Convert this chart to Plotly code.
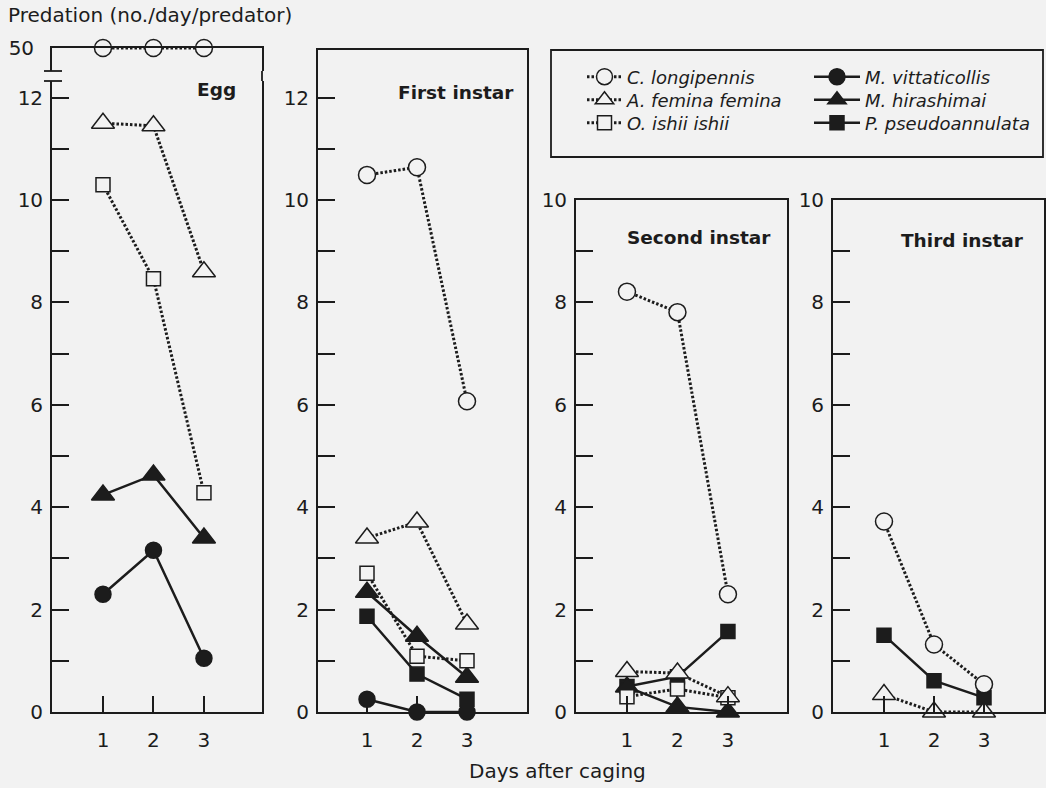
import plotly.graph_objects as go

W, H = 1046, 788
BG = "#f2f2f2"
INK = "#1c1c1c"
FONT = "DejaVu Sans"

days = [1, 2, 3]

# ---- data (predation, no./day/predator) ----
egg_c_longipennis = [50, 50, 50]
egg_a_femina = [11.5, 11.45, 8.6]
egg_o_ishii = [10.3, 8.46, 4.28]
egg_m_hirashimai = [4.24, 4.63, 3.4]
egg_m_vittaticollis = [2.3, 3.16, 1.05]

first_c_longipennis = [10.49, 10.64, 6.07]
first_a_femina = [3.4, 3.71, 1.72]
first_o_ishii = [2.71, 1.09, 1.0]
first_m_hirashimai = [2.34, 1.48, 0.68]
first_p_pseudoannulata = [1.87, 0.74, 0.25]
first_m_vittaticollis = [0.25, 0.0, 0.0]

second_c_longipennis = [8.21, 7.81, 2.3]
second_a_femina = [0.79, 0.76, 0.3]
second_o_ishii = [0.3, 0.45, 0.28]
second_m_hirashimai = [0.49, 0.1, 0.0]
second_p_pseudoannulata = [0.5, 0.69, 1.57]

third_c_longipennis = [3.72, 1.32, 0.54]
third_a_femina = [0.34, 0.0, 0.0]
third_p_pseudoannulata = [1.5, 0.61, 0.28]

panel_titles = ["Egg", "First instar", "Second instar", "Third instar"]
y_title = "Predation (no./day/predator)"
x_title = "Days after caging"

# ---- series styles (legend slot: column, row) ----
STYLE = {
    "C. longipennis": dict(symbol="circle", size=17, fill=BG, dash="2.5px,2px", col=0, row=0),
    "A. femina femina": dict(symbol="triangle-up", size=20, fill=BG, dash="2.5px,2px", col=0, row=1),
    "O. ishii ishii": dict(symbol="square", size=14, fill=BG, dash="2.5px,2px", col=0, row=2),
    "M. vittaticollis": dict(symbol="circle", size=16, fill=INK, dash="solid", col=1, row=0),
    "M. hirashimai": dict(symbol="triangle-up", size=20, fill=INK, dash="solid", col=1, row=1),
    "P. pseudoannulata": dict(symbol="square", size=14, fill=INK, dash="solid", col=1, row=2),
}
LEGEND_IDS = {}
for i, name in enumerate(STYLE):
    LEGEND_IDS[name] = "legend" if i == 0 else "legend%d" % (i + 1)

panels = [
    ("x5", "y5", {"C. longipennis": egg_c_longipennis}),
    ("x", "y", {"M. vittaticollis": egg_m_vittaticollis,
                "M. hirashimai": egg_m_hirashimai,
                "A. femina femina": egg_a_femina,
                "O. ishii ishii": egg_o_ishii}),
    ("x2", "y2", {"M. vittaticollis": first_m_vittaticollis,
                  "P. pseudoannulata": first_p_pseudoannulata,
                  "M. hirashimai": first_m_hirashimai,
                  "O. ishii ishii": first_o_ishii,
                  "A. femina femina": first_a_femina,
                  "C. longipennis": first_c_longipennis}),
    ("x3", "y3", {"P. pseudoannulata": second_p_pseudoannulata,
                  "M. hirashimai": second_m_hirashimai,
                  "O. ishii ishii": second_o_ishii,
                  "A. femina femina": second_a_femina,
                  "C. longipennis": second_c_longipennis}),
    ("x4", "y4", {"P. pseudoannulata": third_p_pseudoannulata,
                  "A. femina femina": third_a_femina,
                  "C. longipennis": third_c_longipennis}),
]

fig = go.Figure()
shown = set()
for xa, ya, series in panels:
    for name, vals in series.items():
        st = STYLE[name]
        solid = st["dash"] == "solid"
        fig.add_trace(go.Scatter(
            x=days, y=vals, xaxis=xa, yaxis=ya, name=name,
            mode="lines+markers", cliponaxis=False,
            line=dict(color=INK, width=2.5 if solid else 3, dash=st["dash"]),
            marker=dict(symbol=st["symbol"], size=st["size"], color=st["fill"],
                        line=dict(color=INK, width=1.5)),
            legend=LEGEND_IDS[name], legendgroup=name,
            showlegend=name not in shown,
        ))
        shown.add(name)


def px(v):
    return v / W


def py(v):
    return 1 - v / H


BASE = 712.0
UNIT = 51.2  # pixels per predation unit

common_x = dict(tickvals=days, ticks="inside", ticklen=16, tickwidth=1.5, tickcolor=INK,
                showline=True, linecolor=INK, linewidth=1.8, showgrid=False, zeroline=False,
                tickfont=dict(family=FONT, size=20, color=INK), ticklabelstandoff=9,
                automargin=False)
common_y = dict(ticks="inside", ticklen=17, tickwidth=1.5, tickcolor=INK,
                showline=True, linecolor=INK, linewidth=1.8, mirror=True, showgrid=False,
                zeroline=False, tickfont=dict(family=FONT, size=20, color=INK),
                ticklabelstandoff=3, automargin=False)


def yax(top_px, dtick_top):
    vmax = (BASE - top_px) / UNIT
    return dict(common_y, domain=[py(BASE), py(top_px)], range=[0, vmax],
                tickvals=list(range(0, dtick_top + 1, 2)),
                minor=dict(tickvals=list(range(1, dtick_top, 2)), ticks="inside",
                           ticklen=17, tickwidth=1.5, tickcolor=INK))


layout = dict(
    width=W, height=H, autosize=False,
    margin=dict(l=0, r=0, t=0, b=0, pad=0, autoexpand=False),
    paper_bgcolor=BG, plot_bgcolor=BG,
    font=dict(family=FONT, color=INK),
    xaxis=dict(common_x, domain=[px(52), px(262)], range=[-0.01, 4.15], anchor="y", mirror=False),
    yaxis=dict(yax(81, 12), anchor="x"),
    xaxis5=dict(domain=[px(52), px(262)], range=[-0.01, 4.15], anchor="y5", side="top",
                showline=True, linecolor=INK, linewidth=1.8, showticklabels=False,
                ticks="", showgrid=False, zeroline=False, automargin=False),
    yaxis5=dict(domain=[py(71), py(48)], range=[49, 50], anchor="x5", tickvals=[50],
                ticks="", showline=True, linecolor=INK, linewidth=1.8, mirror=True,
                showgrid=False, zeroline=False, automargin=False,
                tickfont=dict(family=FONT, size=20, color=INK), ticklabelstandoff=12),
    xaxis2=dict(common_x, domain=[px(318), px(527)], range=[0.02, 4.2], anchor="y2", mirror=True),
    yaxis2=dict(yax(50, 12), anchor="x2"),
    xaxis3=dict(common_x, domain=[px(576), px(787)], range=[-0.01, 4.17], anchor="y3", mirror=True),
    yaxis3=dict(yax(BASE - 10 * UNIT, 10), anchor="x3"),
    xaxis4=dict(common_x, domain=[px(833), px(1044)], range=[-0.02, 4.2], anchor="y4", mirror=True),
    yaxis4=dict(yax(BASE - 10 * UNIT, 10), anchor="x4"),
    showlegend=True,
)

# legend slots: one legend per entry, laid out as 2 columns x 3 rows
COL_X = [582, 809]       # left edge of each legend column (px)
COL_ITEMW = [35, 46]
ROW_Y = [77, 100, 123]   # row centres (px)
for name, st in STYLE.items():
    layout[LEGEND_IDS[name]] = dict(
        x=px(COL_X[st["col"]]), y=py(ROW_Y[st["row"]]), xanchor="left", yanchor="middle",
        bgcolor="rgba(0,0,0,0)", borderwidth=0, itemwidth=COL_ITEMW[st["col"]],
        font=dict(family=FONT, size=18, style="italic", color=INK))

fig.update_layout(**layout)

shapes = [
    dict(type="line", xref="paper", yref="paper", x0=px(44), x1=px(62), y0=py(71), y1=py(71),
         line=dict(color=INK, width=1.8)),
    dict(type="line", xref="paper", yref="paper", x0=px(44), x1=px(62), y0=py(81), y1=py(81),
         line=dict(color=INK, width=1.8)),
    dict(type="line", xref="paper", yref="paper", x0=px(262), x1=px(262), y0=py(71), y1=py(81),
         line=dict(color=INK, width=1.8)),
    dict(type="rect", xref="paper", yref="paper", x0=px(551), x1=px(1043), y0=py(157), y1=py(50),
         line=dict(color=INK, width=1.8), fillcolor="rgba(0,0,0,0)", layer="below"),
]
fig.update_layout(shapes=shapes)

ann = [
    dict(text=y_title, x=px(6), y=py(15), xanchor="left", yanchor="middle",
         font=dict(family=FONT, size=20, color=INK)),
    dict(text=x_title, x=px(557), y=py(771), xanchor="center", yanchor="middle",
         font=dict(family=FONT, size=20, color=INK)),
    dict(text="<b>" + panel_titles[0] + "</b>", x=px(238), y=py(90), xanchor="right", yanchor="middle",
         font=dict(family=FONT, size=18.5, color=INK)),
    dict(text="<b>" + panel_titles[1] + "</b>", x=px(516), y=py(92), xanchor="right", yanchor="middle",
         font=dict(family=FONT, size=18.5, color=INK)),
    dict(text="<b>" + panel_titles[2] + "</b>", x=px(773), y=py(238), xanchor="right", yanchor="middle",
         font=dict(family=FONT, size=18.5, color=INK)),
    dict(text="<b>" + panel_titles[3] + "</b>", x=px(1026), y=py(240), xanchor="right", yanchor="middle",
         font=dict(family=FONT, size=18.5, color=INK)),
]
for a in ann:
    a.update(xref="paper", yref="paper", showarrow=False)
fig.update_layout(annotations=ann)

fig.write_html("out.html", config={"displayModeBar": False},
               post_script="document.body.style.margin='0';document.body.style.overflow='hidden';")
